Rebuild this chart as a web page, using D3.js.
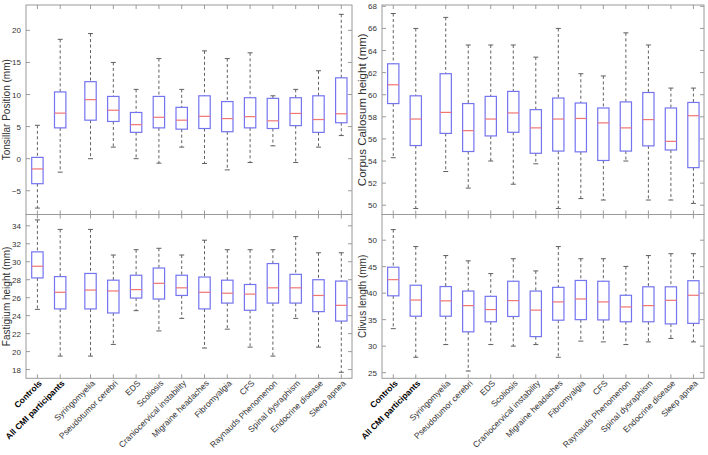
<!DOCTYPE html>
<html><head><meta charset="utf-8">
<script src="https://cdn.jsdelivr.net/npm/d3@7"></script>
<style>body{margin:0;background:#fff}svg{display:block}</style>
</head><body>
<script>
const categories = ["Controls","All CMI participants","Syringomyelia","Pseudotumor cerebri","EDS","Scoliosis","Craniocervical instability","Migraine headaches","Fibromyalgia","CFS","Raynauds Phenomenon","Spinal dysraphism","Endocrine disease","Sleep apnea"];
const boldCategories = ["Controls","All CMI participants"];

// each row: [lower whisker, Q1, median, Q3, upper whisker]
const tonsillar = [
  [-7.7,-3.9,-1.6,0.2,5.2],
  [-2.1,4.8,7.1,10.4,18.6],
  [0.0,6.0,9.2,12.0,19.5],
  [1.8,5.8,7.55,9.7,15.0],
  [0.0,4.1,5.3,7.2,10.8],
  [-0.7,4.8,6.45,9.7,15.6],
  [1.8,4.6,6.0,8.0,10.8],
  [-0.75,4.7,6.6,9.8,16.8],
  [-1.75,4.2,6.25,8.9,15.6],
  [-0.6,4.8,6.55,9.5,16.5],
  [2.0,4.7,5.9,9.4,9.8],
  [-0.6,5.15,7.05,9.5,10.8],
  [1.8,4.1,6.1,9.8,13.7],
  [3.6,5.6,7.0,12.6,22.5]
];
const corpus = [
  [54.3,59.2,60.9,62.8,67.35],
  [49.7,55.4,57.8,59.9,66.0],
  [53.05,56.5,58.4,61.9,67.0],
  [51.55,54.86,56.75,59.2,64.5],
  [54.0,56.27,57.8,59.85,64.5],
  [51.9,56.6,58.35,60.3,64.5],
  [53.75,54.7,57.0,58.65,63.4],
  [49.7,54.9,57.8,59.7,66.0],
  [50.6,54.83,57.85,59.25,61.9],
  [50.47,54.05,57.45,58.8,61.7],
  [54.0,54.9,57.0,59.35,65.6],
  [50.47,55.37,57.75,60.2,64.5],
  [50.47,55.0,55.78,58.8,60.6],
  [50.16,53.4,58.1,59.3,60.6]
];
const fastigium = [
  [24.7,28.2,29.5,31.1,34.66],
  [19.5,24.75,26.6,28.35,33.6],
  [19.5,24.75,26.85,28.7,33.6],
  [20.8,24.3,26.75,27.95,30.75],
  [24.56,25.96,26.9,28.5,31.34],
  [22.3,25.85,27.6,29.3,31.5],
  [23.7,26.25,27.1,28.5,30.75],
  [20.4,24.75,26.6,28.3,32.4],
  [22.5,25.4,26.5,27.95,31.34],
  [20.5,24.6,26.4,27.47,31.34],
  [19.5,25.4,27.1,29.8,31.34],
  [23.7,25.4,27.1,28.6,32.8],
  [20.5,24.45,26.25,28.0,31.0],
  [17.7,23.4,25.15,27.85,31.0]
];
const clivus = [
  [33.3,39.5,42.55,44.9,52.0],
  [27.9,35.65,38.7,41.5,48.8],
  [30.3,35.65,38.55,41.25,47.1],
  [25.3,32.7,37.65,40.4,46.1],
  [30.3,34.6,36.9,39.4,43.7],
  [30.0,35.6,38.6,42.25,46.5],
  [30.3,31.8,36.8,40.4,44.2],
  [27.9,34.9,38.35,41.1,48.8],
  [30.95,35.0,38.9,42.4,46.5],
  [30.8,34.95,38.35,42.25,46.5],
  [30.3,34.6,37.4,39.6,45.05],
  [30.8,34.6,37.65,41.2,47.1],
  [31.45,34.2,38.65,41.2,47.45],
  [30.8,34.3,39.6,42.35,47.45]
];
const tonsillarTicks = [-5,0,5,10,15,20];
const corpusTicks = [50,52,54,56,58,60,62,64,66,68];
const fastigiumTicks = [18,20,22,24,26,28,30,32,34];
const clivusTicks = [25,30,35,40,45,50];

const W = 708, H = 455;
const FONT = "'Liberation Sans', Arial, sans-serif";
const svg = d3.select("body").append("svg").attr("width", W).attr("height", H)
  .style("font-family", FONT);

// category positions: gap after the two reference groups
const catPos = categories.map((c, i) => i < 2 ? i + 1 : i + 1.33);

const panels = [
  {stats: tonsillar, ticks: tonsillarTicks, domain: [-8.7, 23.95], label: "Tonsillar Position (mm)", lsize: 10, x0: 26, x1: 352, y0: 5, y1: 214.5, xlab: false},
  {stats: corpus, ticks: corpusTicks, domain: [49.16, 68.12], label: "Corpus Callosum height (mm)", lsize: 11.5, x0: 382, x1: 704, y0: 5, y1: 214.5, xlab: false},
  {stats: fastigium, ticks: fastigiumTicks, domain: [17.03, 35.26], label: "Fastigium height (mm)", lsize: 10, x0: 26, x1: 352, y0: 214.5, y1: 378.3, xlab: true},
  {stats: clivus, ticks: clivusTicks, domain: [23.93, 54.85], label: "Clivus length (mm)", lsize: 10, x0: 382, x1: 704, y0: 214.5, y1: 378.3, xlab: true}
];

const axisColor = "#9a9a9a";
const textColor = "#333";
const boxColor = "#7474f0";
const medColor = "#f07575";
const whiskColor = "#606060";

panels.forEach(p => {
  const x = d3.scaleLinear().domain([0.5, 14.8]).range([p.x0, p.x1]);
  const y = d3.scaleLinear().domain(p.domain).range([p.y1, p.y0]);
  const g = svg.append("g");
  const unit = x(2) - x(1);
  const bw = unit * 0.5;
  const cw = 5;

  g.append("rect").attr("x", p.x0).attr("y", p.y0).attr("width", p.x1 - p.x0).attr("height", p.y1 - p.y0)
    .attr("fill", "none").attr("stroke", axisColor).attr("stroke-width", 1);

  const yAxis = d3.axisLeft(y).tickValues(p.ticks).tickSize(0).tickPadding(5);
  const ya = g.append("g").attr("transform", `translate(${p.x0},0)`).call(yAxis);
  ya.select(".domain").remove();
  ya.selectAll("text").attr("fill", textColor).style("font-size", "8px").style("font-family", FONT);

  g.selectAll(".ytl").data(p.ticks).enter().append("line")
    .attr("x1", p.x0).attr("x2", p.x0 + 4).attr("y1", d => y(d)).attr("y2", d => y(d)).attr("stroke", axisColor);
  g.selectAll(".ytr").data(p.ticks).enter().append("line")
    .attr("x1", p.x1).attr("x2", p.x1 - 4).attr("y1", d => y(d)).attr("y2", d => y(d)).attr("stroke", axisColor);
  g.selectAll(".xtt").data(catPos).enter().append("line")
    .attr("x1", d => x(d)).attr("x2", d => x(d)).attr("y1", p.y0).attr("y2", p.y0 + 4).attr("stroke", axisColor);
  g.selectAll(".xtb").data(catPos).enter().append("line")
    .attr("x1", d => x(d)).attr("x2", d => x(d)).attr("y1", p.y1).attr("y2", p.y1 - 4).attr("stroke", axisColor);

  g.append("text").attr("transform", `translate(${p.x0 - 16.5},${(p.y0 + p.y1) / 2}) rotate(-90)`)
    .attr("text-anchor", "middle").attr("fill", textColor).style("font-size", p.lsize + "px").text(p.label);

  const bx = g.selectAll(".box").data(p.stats).enter().append("g");
  bx.append("line").attr("x1", (d, i) => x(catPos[i])).attr("x2", (d, i) => x(catPos[i]))
    .attr("y1", d => y(d[4])).attr("y2", d => y(d[3])).attr("stroke", whiskColor).attr("stroke-dasharray", "3,2.5");
  bx.append("line").attr("x1", (d, i) => x(catPos[i])).attr("x2", (d, i) => x(catPos[i]))
    .attr("y1", d => y(d[1])).attr("y2", d => y(d[0])).attr("stroke", whiskColor).attr("stroke-dasharray", "3,2.5");
  bx.append("line").attr("x1", (d, i) => x(catPos[i]) - cw / 2).attr("x2", (d, i) => x(catPos[i]) + cw / 2)
    .attr("y1", d => y(d[4])).attr("y2", d => y(d[4])).attr("stroke", whiskColor);
  bx.append("line").attr("x1", (d, i) => x(catPos[i]) - cw / 2).attr("x2", (d, i) => x(catPos[i]) + cw / 2)
    .attr("y1", d => y(d[0])).attr("y2", d => y(d[0])).attr("stroke", whiskColor);
  bx.append("rect").attr("x", (d, i) => x(catPos[i]) - bw / 2).attr("width", bw)
    .attr("y", d => y(d[3])).attr("height", d => y(d[1]) - y(d[3]))
    .attr("fill", "none").attr("stroke", boxColor).attr("stroke-width", 1.2);
  bx.append("line").attr("x1", (d, i) => x(catPos[i]) - bw / 2).attr("x2", (d, i) => x(catPos[i]) + bw / 2)
    .attr("y1", d => y(d[2])).attr("y2", d => y(d[2])).attr("stroke", medColor).attr("stroke-width", 1.2);

  if (p.xlab) {
    g.selectAll(".xl").data(categories).enter().append("text")
      .attr("transform", (d, i) => `translate(${x(catPos[i]) + 5},${p.y1 + 5.5}) rotate(-45)`)
      .attr("text-anchor", "end").attr("fill", d => boldCategories.includes(d) ? "#000" : textColor)
      .style("font-size", "8.5px")
      .style("font-weight", d => boldCategories.includes(d) ? "bold" : "normal")
      .text(d => d);
  }
});
</script>
</body></html>
